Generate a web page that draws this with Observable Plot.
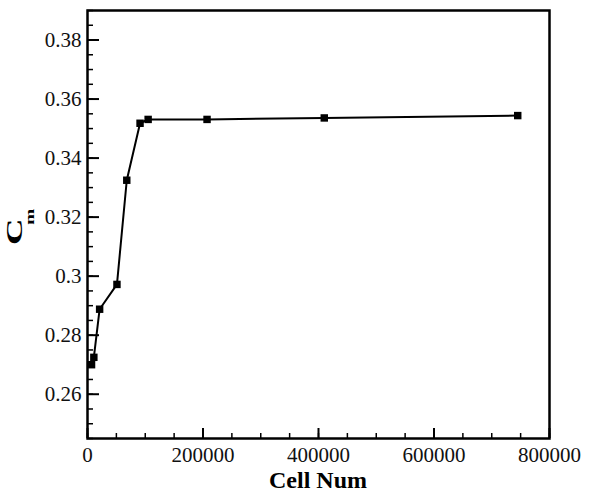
<!DOCTYPE html>
<html>
<head>
<meta charset="utf-8">
<script src="https://cdn.jsdelivr.net/npm/d3@7"></script>
<script src="https://cdn.jsdelivr.net/npm/@observablehq/plot@0.6"></script>
<style>
  html, body { margin: 0; padding: 0; background: #fff; }
  #chart svg { display: block; }
</style>
</head>
<body>
<div id="chart"></div>
<script>
const cellNum = [7000, 11000, 21000, 51000, 68000, 91000, 105000, 207000, 410000, 745000];
const cm = [0.2700, 0.2725, 0.2888, 0.2972, 0.3325, 0.3518, 0.3531, 0.3531, 0.3536, 0.3544];
const xMajor = [0, 200000, 400000, 600000, 800000];
const xMinor = d3.range(0, 800001, 50000);
const yMajor = [0.26, 0.28, 0.30, 0.32, 0.34, 0.36, 0.38];
const yMinor = d3.range(0, 30).map(i => 0.245 + i * 0.005).filter(v => v <= 0.3901);
const xTitle = "Cell Num";
const yTitleMain = "C";
const yTitleSub = "m";

const data = cellNum.map((x, i) => ({x, y: cm[i]}));
const fmtY = d => String(+d.toFixed(2));
const fmtX = d => String(d);

const chart = Plot.plot({
  width: 593,
  height: 495,
  marginLeft: 87,
  marginRight: 44,
  marginTop: 10,
  marginBottom: 57,
  style: {fontFamily: "'Liberation Serif', 'Times New Roman', serif", background: "#fff", color: "#000"},
  x: {domain: [0, 800000]},
  y: {domain: [0.245, 0.39]},
  marks: [
    Plot.axisX({ticks: xMinor, tickSize: -5, strokeWidth: 1.5, fill: "none", label: null}),
    Plot.axisX({ticks: xMajor, tickSize: -10, strokeWidth: 2, fill: "none", label: null}),
    Plot.axisX({ticks: xMajor, tickSize: 0, tickPadding: 9, tickFormat: fmtX, fontSize: 21, fill: "#111", label: null}),
    Plot.axisY({ticks: yMinor, tickSize: -6, strokeWidth: 1.5, fill: "none", label: null}),
    Plot.axisY({ticks: yMajor, tickSize: -12, strokeWidth: 2, fill: "none", label: null}),
    Plot.axisY({ticks: yMajor, tickSize: 0, tickPadding: 6, tickFormat: fmtY, fontSize: 21, fill: "#111", label: null}),
    Plot.line(data, {x: "x", y: "y", stroke: "#000", strokeWidth: 2}),
    Plot.dot(data, {x: "x", y: "y", symbol: "square", r: 4.2, fill: "#000", stroke: "none"}),
    Plot.frame({stroke: "#000", strokeWidth: 2.5})
  ]
});

const svg = d3.select(chart);
svg.append("text")
  .attr("x", 318).attr("y", 488)
  .attr("text-anchor", "middle")
  .attr("font-family", "'Liberation Serif', serif")
  .attr("font-weight", "bold")
  .attr("font-size", 24)
  .attr("fill", "#000")
  .text(xTitle);
const yt = svg.append("text")
  .attr("transform", "translate(22,245) rotate(-90) scale(1.6,1)")
  .attr("text-anchor", "start")
  .attr("font-family", "'Liberation Serif', serif")
  .attr("font-weight", "bold")
  .attr("font-size", 23)
  .attr("fill", "#000");
yt.append("tspan").text(yTitleMain);
yt.append("tspan").attr("font-size", 12).attr("dx", -4).attr("dy", 12).text(yTitleSub);

document.getElementById("chart").append(chart);
</script>
</body>
</html>
